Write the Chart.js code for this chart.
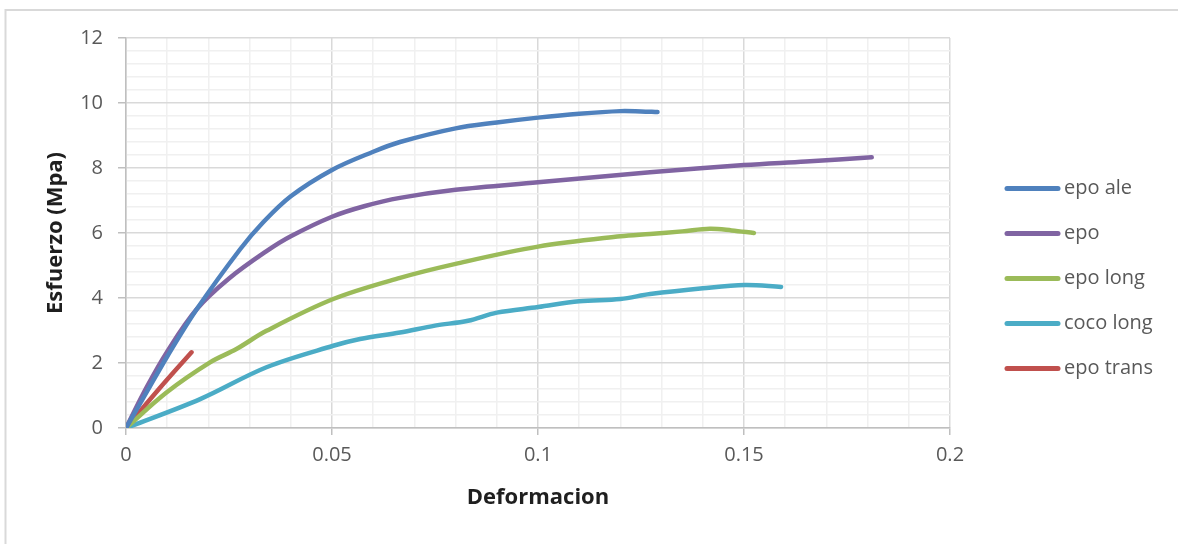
<!DOCTYPE html>
<html>
<head>
<meta charset="utf-8">
<script src="https://cdn.jsdelivr.net/npm/chart.js@4/dist/chart.umd.min.js"></script>
<style>
  html, body { margin: 0; padding: 0; background: #fff; }
  #wrap { width: 1178px; height: 544px; position: relative; }
</style>
</head>
<body>
<div id="wrap"><canvas id="c" width="1178" height="544"></canvas></div>
<script>
// Strain (x) and stress in MPa (y) for each specimen
const seriesNames = ['epo ale', 'epo', 'epo long', 'coco long', 'epo trans'];
const seriesColors = ['#4F81BD', '#8064A2', '#9BBB59', '#4BACC6', '#C0504D'];

const epoAleStrain = [0, 0.005, 0.01, 0.0172, 0.0277, 0.0333, 0.04, 0.05, 0.06, 0.0665, 0.08, 0.09, 0.1, 0.11, 0.12, 0.125, 0.129];
const epoAleStress = [0, 1.1, 2.2, 3.66, 5.5, 6.33, 7.13, 7.94, 8.5, 8.8, 9.22, 9.4, 9.55, 9.67, 9.75, 9.74, 9.72];

const epoStrain = [0, 0.005, 0.01, 0.0172, 0.025, 0.0342, 0.04, 0.05, 0.058, 0.0665, 0.08, 0.1, 0.1272, 0.15, 0.165, 0.181];
const epoStress = [0, 1.25, 2.35, 3.66, 4.6, 5.45, 5.9, 6.5, 6.83, 7.08, 7.33, 7.56, 7.87, 8.09, 8.2, 8.33];

const epoLongStrain = [0, 0.0099, 0.0204, 0.0268, 0.0341, 0.0503, 0.0665, 0.08, 0.1, 0.12, 0.1272, 0.135, 0.1417, 0.147, 0.1524];
const epoLongStress = [0, 1.1, 2.02, 2.43, 2.99, 3.97, 4.62, 5.05, 5.58, 5.9, 5.97, 6.05, 6.13, 6.08, 6.0];

const cocoLongStrain = [0, 0.018, 0.0341, 0.0503, 0.0568, 0.0665, 0.075, 0.083, 0.09, 0.1, 0.11, 0.12, 0.1272, 0.14, 0.1502, 0.159];
const cocoLongStress = [0, 0.89, 1.87, 2.53, 2.74, 2.94, 3.15, 3.3, 3.55, 3.72, 3.9, 3.97, 4.12, 4.3, 4.4, 4.34];

const epoTransStrain = [0, 0.008, 0.0159];
const epoTransStress = [0, 1.2, 2.33];

// Axis ranges and tick steps (major labels, minor grid)
const xMin = 0, xMax = 0.2, xMajor = 0.05, xMinor = 0.01;
const yMin = 0, yMax = 12, yMajor = 2, yMinor = 0.4;

const strains = [epoAleStrain, epoStrain, epoLongStrain, cocoLongStrain, epoTransStrain];
const stresses = [epoAleStress, epoStress, epoLongStress, cocoLongStress, epoTransStress];

const isMajor = (v, step) => Math.abs(v / step - Math.round(v / step)) < 1e-6;

const datasets = seriesNames.map((name, i) => ({
  label: name,
  data: strains[i].map((x, k) => ({ x, y: stresses[i][k] })),
  borderColor: seriesColors[i],
  backgroundColor: seriesColors[i],
  borderWidth: 4.5,
  borderCapStyle: 'round',
  borderJoinStyle: 'round',
  showLine: true,
  pointRadius: 0,
  pointHoverRadius: 0,
  tension: 0.35,
  fill: false
}));

const FONT = "'Open Sans', 'DejaVu Sans', sans-serif";
const TICK_COLOR = '#595959';

// Light frame around the chart
const framePlugin = {
  id: 'frame',
  beforeDraw(chart) {
    const ctx = chart.ctx;
    ctx.save();
    ctx.strokeStyle = '#d9d9d9';
    ctx.lineWidth = 2;
    ctx.strokeRect(5.5, 10, 2000, 2000);
    ctx.restore();
  }
};

// Legend drawn as line samples on the right
const sideLegend = {
  id: 'sideLegend',
  afterDraw(chart) {
    const ctx = chart.ctx;
    ctx.save();
    ctx.font = '20px ' + FONT;
    ctx.textBaseline = 'middle';
    ctx.textAlign = 'left';
    chart.data.datasets.forEach((ds, i) => {
      const y = 188.5 + i * 45;
      ctx.strokeStyle = ds.borderColor;
      ctx.lineWidth = 5;
      ctx.lineCap = 'round';
      ctx.beginPath();
      ctx.moveTo(1007, y);
      ctx.lineTo(1058, y);
      ctx.stroke();
      ctx.fillStyle = TICK_COLOR;
      ctx.fillText(ds.label, 1064, y);
    });
    ctx.restore();
  }
};

new Chart(document.getElementById('c'), {
  type: 'scatter',
  data: { datasets },
  options: {
    responsive: false,
    devicePixelRatio: 1,
    animation: false,
    events: [],
    layout: { padding: { top: 38, right: 228, left: 0, bottom: 0 } },
    plugins: { legend: { display: false }, tooltip: { enabled: false } },
    scales: {
      x: {
        type: 'linear',
        min: xMin, max: xMax,
        afterFit(scale) { scale.height = 116; },
        border: { display: true, color: '#bfbfbf', width: 1.5 },
        grid: {
          color: (c) => isMajor(c.tick.value, xMajor) ? '#d9d9d9' : '#f0f0f0',
          tickColor: (c) => isMajor(c.tick.value, xMajor) ? '#bfbfbf' : 'rgba(0,0,0,0)',
          lineWidth: 1.5,
          tickLength: 7,
          drawTicks: true
        },
        ticks: {
          stepSize: xMinor,
          autoSkip: false,
          maxRotation: 0,
          padding: 8,
          color: TICK_COLOR,
          font: { family: FONT, size: 20 },
          callback: (v) => isMajor(v, xMajor) ? String(Number(v.toFixed(2))) : ''
        },
        title: {
          display: true,
          text: 'Deformacion',
          color: '#1f1f1f',
          font: { family: FONT, size: 22, weight: 'bold' },
          padding: { top: 0, bottom: 33 }
        }
      },
      y: {
        type: 'linear',
        min: yMin, max: yMax,
        afterFit(scale) { scale.width = 126; },
        border: { display: true, color: '#bfbfbf', width: 1.5 },
        grid: {
          color: (c) => isMajor(c.tick.value, yMajor) ? '#d9d9d9' : '#f0f0f0',
          tickColor: (c) => isMajor(c.tick.value, yMajor) ? '#bfbfbf' : 'rgba(0,0,0,0)',
          lineWidth: 1.5,
          tickLength: 8,
          drawTicks: true
        },
        ticks: {
          stepSize: yMinor,
          autoSkip: false,
          padding: 15,
          color: TICK_COLOR,
          font: { family: FONT, size: 20 },
          callback: (v) => isMajor(v, yMajor) ? String(Math.round(v)) : ''
        },
        title: {
          display: true,
          text: 'Esfuerzo (Mpa)',
          color: '#1f1f1f',
          font: { family: FONT, size: 22, weight: 'bold' },
          padding: { top: 43, bottom: 0 }
        }
      }
    }
  },
  plugins: [framePlugin, sideLegend]
});
</script>
</body>
</html>
